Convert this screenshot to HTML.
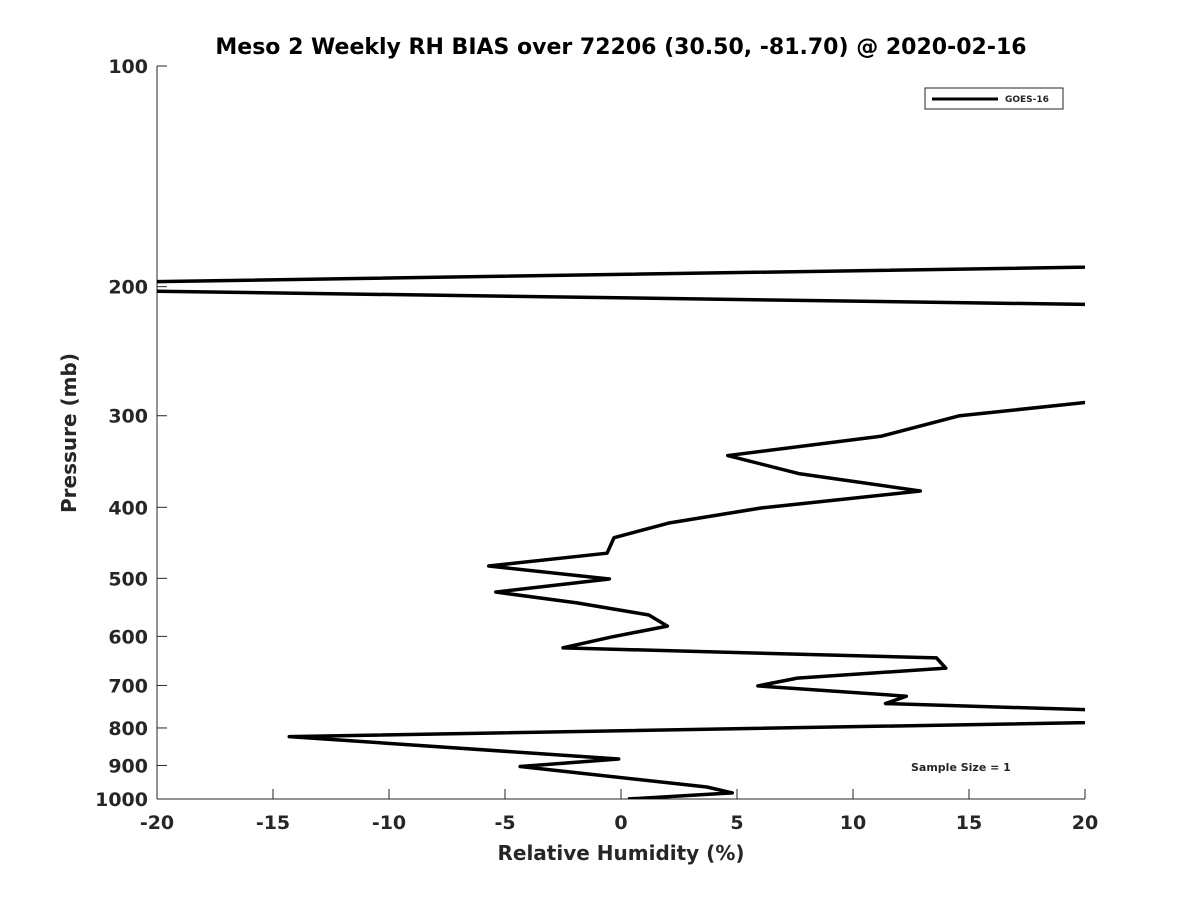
<!DOCTYPE html>
<html><head><meta charset="utf-8"><style>
body{margin:0;background:#fff;}
svg text{font-family:"DejaVu Sans","Liberation Sans",sans-serif;font-weight:bold;fill:#262626;}
</style></head><body>
<svg width="1200" height="900" xmlns="http://www.w3.org/2000/svg">
<defs><clipPath id="cp"><rect x="157" y="66" width="928" height="733"/></clipPath></defs>
<rect width="1200" height="900" fill="#fff"/>
<text x="621" y="54" text-anchor="middle" font-size="22" style="fill:#000">Meso 2 Weekly RH BIAS over 72206 (30.50, -81.70) @ 2020-02-16</text>
<g id="axes"></g>
<polyline id="line" fill="none" stroke="#000" stroke-width="3.5" stroke-linejoin="round" clip-path="url(#cp)"/>
<text x="621" y="860" text-anchor="middle" font-size="20">Relative Humidity (%)</text>
<text transform="translate(76,433) rotate(-90)" text-anchor="middle" font-size="20">Pressure (mb)</text>
<g>
<rect x="925" y="88" width="138" height="21" fill="#fff" stroke="#262626" stroke-width="1"/>
<line x1="932" y1="99" x2="998" y2="99" stroke="#000" stroke-width="3"/>
<text x="1005" y="102" font-size="9">GOES-16</text>
</g>
<text x="911" y="771" font-size="11">Sample Size = 1</text>
</svg>
<script>
const xTicks=[-20,-15,-10,-5,0,5,10,15,20];
const yTicks=[100,200,300,400,500,600,700,800,900,1000];
const rhBias=[30,-34,36,25,14.6,11.2,4.6,7.7,12.9,6.0,2.1,-0.3,-0.6,-5.7,-0.5,-5.4,-1.9,1.2,2.0,-0.4,-2.5,13.6,14.0,7.6,5.9,12.3,11.4,31.7,-14.3,-0.1,-4.35,3.7,4.8,0.3];
const pressure=[186,200,215,277,300,320,340,360,380,401,420,440,462,481,501,522,540,561,581,601,622,642,663,684,701,724,741,775,822,882,903,963,981,1000];
const X0=157,X1=1085,Y0=66,Y1=799;
const sx=v=>X0+(v+20)/40*(X1-X0);
const sy=p=>Y0+(Math.log10(p)-2)*(Y1-Y0);
const NS="http://www.w3.org/2000/svg";
const ax=document.getElementById('axes');
function mk(t,a){const e=document.createElementNS(NS,t);for(const k in a)e.setAttribute(k,a[k]);ax.appendChild(e);return e;}
const xa=mk('line',{x1:X0,y1:Y1,x2:X1,y2:Y1,stroke:'#262626','stroke-width':1});


const ya=mk('line',{x1:X0,y1:Y0,x2:X0,y2:Y1,stroke:'#262626','stroke-width':1});


xTicks.forEach(v=>{
 mk('line',{x1:sx(v),y1:Y1,x2:sx(v),y2:Y1-10,stroke:'#262626'});
 const t=mk('text',{x:sx(v),y:Y1+30,'text-anchor':'middle','font-size':19});
 t.textContent=v;
 
 
});
yTicks.forEach(p=>{
 mk('line',{x1:X0,y1:sy(p),x2:X0+10,y2:sy(p),stroke:'#262626'});
 const t=mk('text',{x:X0-9,y:sy(p)+7,'text-anchor':'end','font-size':19});
 t.textContent=p;
 
 
});
document.getElementById('line').setAttribute('points',rhBias.map((v,i)=>sx(v)+','+sy(pressure[i])).join(' '));
</script>
</body></html>
